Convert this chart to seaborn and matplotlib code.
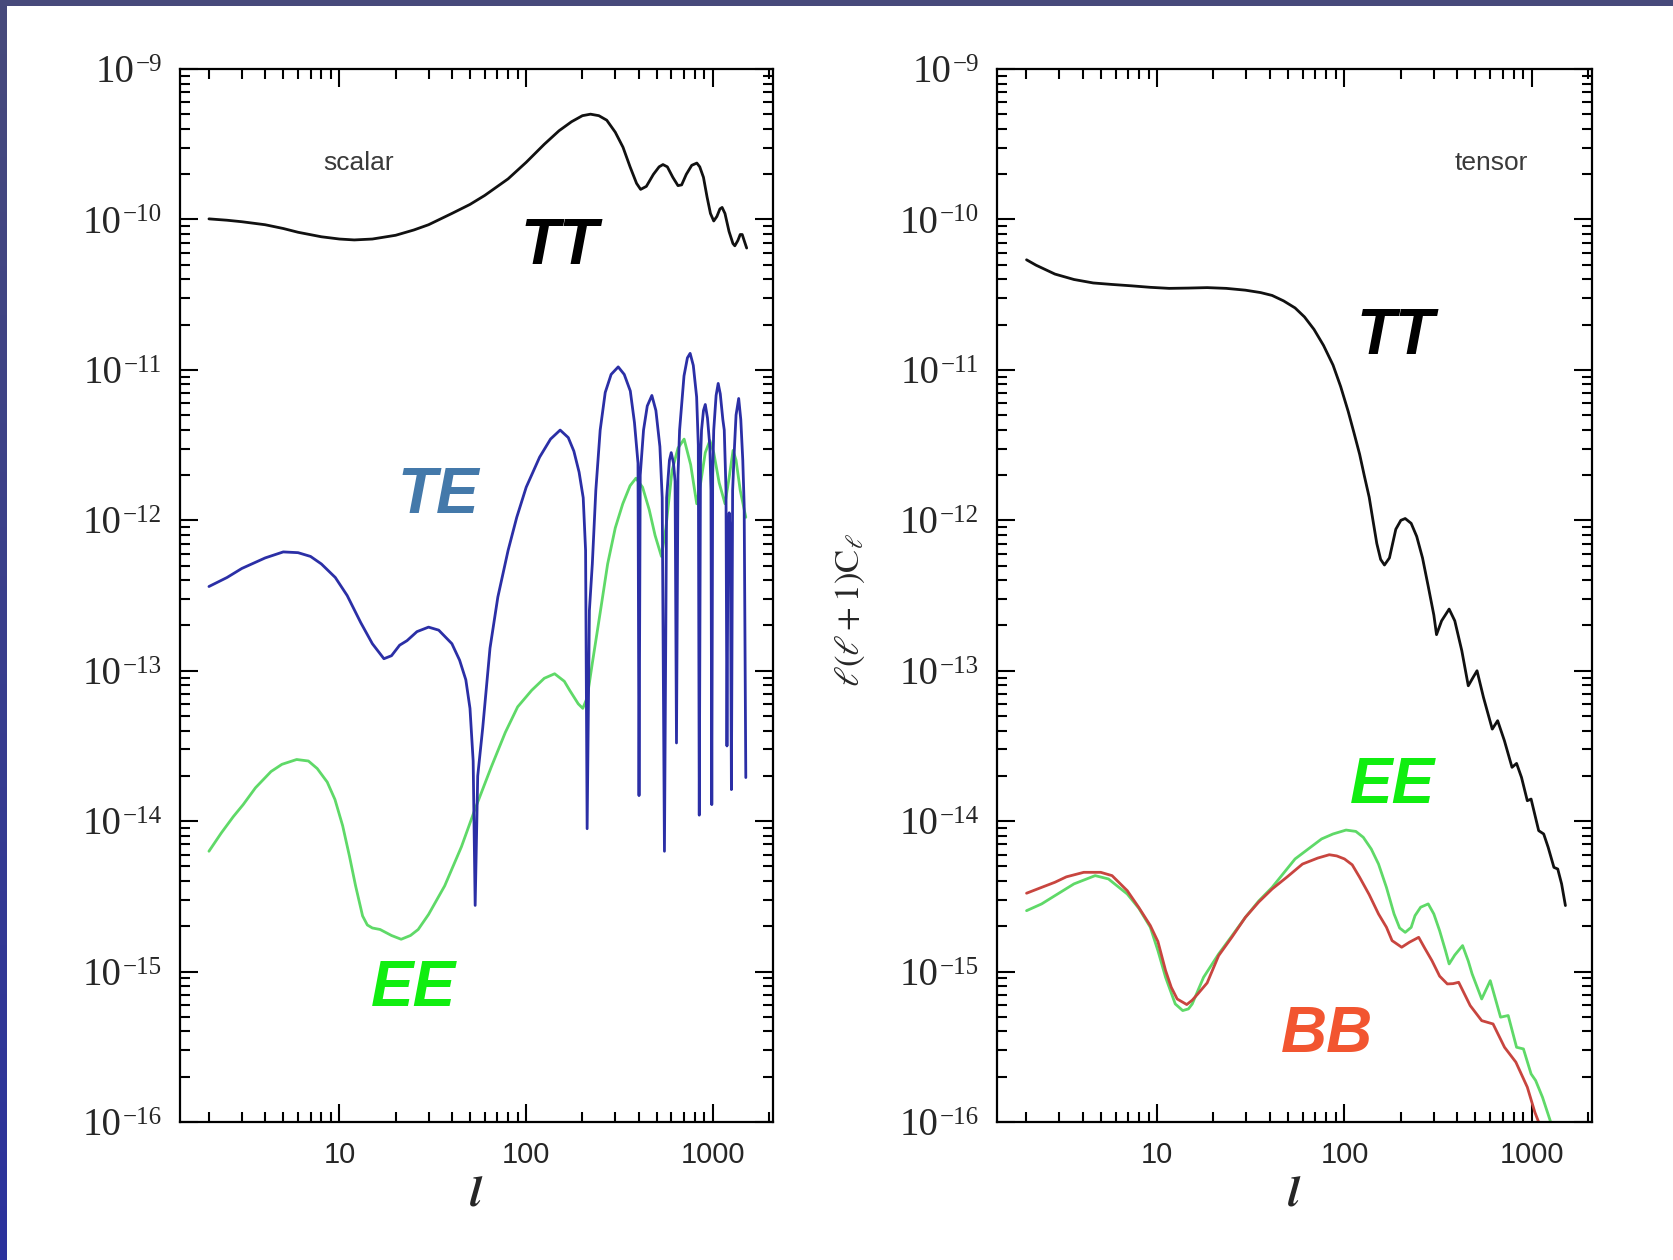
import numpy as np
import pandas as pd
import matplotlib
matplotlib.use("Agg")
import matplotlib.pyplot as plt
import seaborn as sns
from matplotlib.ticker import FixedLocator, LogLocator, NullFormatter
from matplotlib.patches import Rectangle
from matplotlib.colors import LinearSegmentedColormap
from matplotlib.transforms import offset_copy

# ---------------- dados (multipolo l, log10 de l(l+1)C_l) ----------------

# painel escalar: TT
ell_tt_s = [2, 2.5, 3, 4, 5, 6, 8, 10, 12, 15, 20, 25, 30, 40, 50, 60, 80, 100, 125, 150,
            175, 200, 221, 245, 270, 300, 330, 360, 390, 410, 440, 480, 515, 540, 570, 610,
            650, 680, 720, 770, 820, 850, 890, 930, 970, 1010, 1050, 1090, 1120, 1160, 1220,
            1280, 1310, 1360, 1400, 1435, 1470, 1516]
log_tt_s = [-9.996, -10.005, -10.015, -10.035, -10.06, -10.085, -10.115, -10.13, -10.136,
            -10.13, -10.105, -10.07, -10.035, -9.96, -9.90, -9.84, -9.73, -9.62, -9.50, -9.41,
            -9.35, -9.31, -9.30, -9.31, -9.34, -9.42, -9.52, -9.65, -9.76, -9.80, -9.78, -9.70,
            -9.65, -9.635, -9.65, -9.72, -9.775, -9.77, -9.70, -9.64, -9.625, -9.65, -9.72,
            -9.85, -9.96, -10.01, -9.98, -9.93, -9.92, -9.96, -10.08, -10.16, -10.175, -10.14,
            -10.10, -10.10, -10.14, -10.19]

# painel escalar: TE (valor absoluto)
ell_te_s = [2, 2.5, 3, 4, 5, 6, 7, 8, 9.5, 11, 13, 15, 17.3, 19, 21, 23, 26, 30, 34, 40, 44,
            47.5, 50, 52, 53.3, 55, 58.5, 64, 70.5, 80, 89, 100, 118, 135, 152, 168, 180, 192,
            202, 208, 212, 218, 226, 236, 249, 265, 285, 311, 335, 361, 380, 397, 402, 408,
            425, 445, 471, 495, 520, 535, 550, 565, 585, 598, 615, 627, 638, 650, 663, 700,
            730, 755, 785, 818, 835, 845, 858, 869, 890, 910, 935, 963, 976, 986, 997, 1010,
            1040, 1067, 1095, 1130, 1150, 1175, 1189, 1205, 1222, 1240, 1256, 1275, 1300,
            1330, 1374, 1410, 1445, 1470, 1500]
log_te_s = [-12.44, -12.38, -12.32, -12.25, -12.21, -12.215, -12.24, -12.29, -12.38, -12.50,
            -12.68, -12.82, -12.92, -12.90, -12.83, -12.80, -12.74, -12.71, -12.73, -12.82,
            -12.93, -13.06, -13.25, -13.6, -14.56, -13.7, -13.38, -12.85, -12.51, -12.20,
            -11.98, -11.78, -11.58, -11.46, -11.40, -11.45, -11.54, -11.68, -11.85, -12.2,
            -14.05, -12.6, -12.29, -11.80, -11.40, -11.15, -11.03, -10.98, -11.03, -11.14,
            -11.35, -11.62, -13.83, -11.70, -11.40, -11.24, -11.17, -11.27, -11.51, -11.85,
            -14.20, -11.85, -11.60, -11.55, -11.62, -11.74, -13.48, -11.70, -11.40, -11.04,
            -10.92, -10.89, -10.97, -11.18, -11.5, -13.96, -11.6, -11.40, -11.27, -11.23,
            -11.32, -11.51, -11.8, -13.89, -11.7, -11.40, -11.17, -11.09, -11.16, -11.33,
            -11.40, -11.8, -13.50, -12.05, -11.95, -12.10, -13.79, -11.80, -11.55, -11.30,
            -11.19, -11.33, -11.60, -11.90, -13.71]

# painel escalar: EE
ell_ee_s = [2, 2.33, 2.7, 3.05, 3.55, 4.3, 4.92, 5.9, 6.82, 7.6, 8.6, 9.46, 10.4, 11.3, 12.2,
            13.3, 14.1, 15, 16.5, 19, 21.4, 24, 26.4, 30, 36.6, 45, 53.2, 65, 77.3, 90, 107,
            125, 142, 160, 171, 190, 201, 212, 226, 250, 273, 300, 329, 360, 387, 420, 456,
            490, 530, 560, 604, 650, 701, 760, 819, 860, 910, 963, 1010, 1080, 1161, 1220,
            1282, 1330, 1400, 1500]
log_ee_s = [-14.20, -14.078, -13.97, -13.89, -13.778, -13.67, -13.622, -13.59, -13.60,
            -13.65, -13.74, -13.856, -14.03, -14.23, -14.43, -14.63, -14.69, -14.71, -14.72,
            -14.76, -14.785, -14.76, -14.72, -14.62, -14.43, -14.17, -13.92, -13.64, -13.41,
            -13.24, -13.13, -13.05, -13.02, -13.07, -13.13, -13.22, -13.25, -13.18, -12.95,
            -12.60, -12.29, -12.05, -11.89, -11.77, -11.72, -11.78, -11.93, -12.10, -12.24,
            -12.05, -11.67, -11.52, -11.46, -11.63, -11.89, -11.75, -11.55, -11.47, -11.55,
            -11.75, -11.89, -11.72, -11.535, -11.60, -11.80, -11.98]

# painel tensorial: TT
ell_tt_t = [2.01, 2.26, 2.85, 3.6, 4.56, 5.75, 7.28, 9.19, 11.6, 14.7, 18.5, 23.4, 29.6, 35.7,
            41.1, 47.3, 54.5, 61.2, 68.8, 77.3, 86.9, 95.4, 104.7, 112.4, 120.5, 127.6, 135.5,
            141.9, 148.8, 156, 163.5, 173.8, 188, 200, 211, 227, 243, 261, 280, 300, 310, 330,
            362, 388, 423, 458, 486, 510, 552, 615, 657, 714, 784, 829, 881, 946, 991, 1088,
            1157, 1222, 1312, 1375, 1442, 1511]
log_tt_t = [-10.268, -10.304, -10.363, -10.399, -10.422, -10.432, -10.441, -10.451, -10.458,
            -10.456, -10.453, -10.458, -10.470, -10.486, -10.505, -10.541, -10.588, -10.648,
            -10.731, -10.837, -10.968, -11.110, -11.276, -11.418, -11.561, -11.703, -11.846,
            -11.999, -12.154, -12.26, -12.297, -12.25, -12.059, -12.0, -11.988, -12.02,
            -12.107, -12.25, -12.439, -12.63, -12.76, -12.668, -12.59, -12.668, -12.867,
            -13.10, -13.044, -13.0, -13.177, -13.388, -13.332, -13.465, -13.642, -13.616,
            -13.709, -13.864, -13.853, -14.063, -14.085, -14.173, -14.307, -14.318, -14.417,
            -14.561]

# painel tensorial: EE
ell_ee_t = [2.01, 2.42, 2.85, 3.6, 4.67, 5.5, 6.93, 8.0, 9.2, 10.1, 11.1, 12.5, 13.7, 14.7,
            15.4, 17.7, 21.3, 24.5, 29.6, 34.9, 41.1, 54.5, 75.5, 86.9, 102, 115, 126, 139, 152,
            167.5, 184, 197, 211, 227, 238, 255, 280, 300, 322, 346, 362, 388, 427, 458, 480,
            540, 600, 681, 748, 829, 902, 991, 1048, 1140, 1253, 1350]
log_ee_t = [-14.595, -14.550, -14.495, -14.417, -14.362, -14.384, -14.484, -14.58, -14.705,
            -14.86, -15.038, -15.215, -15.259, -15.248, -15.215, -15.038, -14.883, -14.78,
            -14.639, -14.53, -14.440, -14.251, -14.118, -14.085, -14.059, -14.068, -14.107,
            -14.185, -14.285, -14.44, -14.617, -14.71, -14.739, -14.706, -14.628, -14.572,
            -14.550, -14.617, -14.728, -14.86, -14.949, -14.89, -14.827, -14.93, -15.015,
            -15.182, -15.060, -15.303, -15.292, -15.503, -15.514, -15.680, -15.724, -15.835,
            -15.99, -16.15]

# painel tensorial: BB
ell_bb_t = [2.01, 2.42, 2.85, 3.28, 4.06, 5.0, 5.75, 6.93, 7.98, 9.2, 10.1, 11.1, 11.9, 12.8,
            14.4, 15.4, 16.5, 18.5, 21.3, 25.1, 29.6, 34.9, 41.1, 49.5, 59.7, 72.1, 83, 91,
            100, 110, 120.5, 135.5, 152, 167.5, 179.5, 202, 222, 249, 267, 293, 322, 354,
            380, 407, 469, 540, 621, 715, 822, 946, 1038, 1114, 1200]
log_bb_t = [-14.479, -14.44, -14.406, -14.37, -14.340, -14.340, -14.362, -14.462, -14.573,
            -14.694, -14.80, -14.993, -15.104, -15.182, -15.219, -15.19, -15.148, -15.075,
            -14.894, -14.77, -14.639, -14.537, -14.451, -14.37, -14.285, -14.245, -14.223,
            -14.231, -14.251, -14.29, -14.373, -14.488, -14.617, -14.705, -14.794, -14.838,
            -14.805, -14.772, -14.84, -14.927, -15.03, -15.082, -15.08, -15.071, -15.226,
            -15.326, -15.348, -15.503, -15.602, -15.768, -15.935, -16.034, -16.2]

# eixos
x_ticks = [10, 100, 1000]
x_labels = ['10', '100', '1000']
y_ticks = [1e-16, 1e-15, 1e-14, 1e-13, 1e-12, 1e-11, 1e-10, 1e-9]
y_expoentes = ['\u221216', '\u221215', '\u221214', '\u221213', '\u221212', '\u221211',
               '\u221210', '\u22129']

serif = ['Liberation Serif', 'DejaVu Serif']

# ---------------- estilo ----------------
sns.set_style("ticks")
plt.rcParams['font.family'] = ['Liberation Sans', 'DejaVu Sans']
plt.rcParams['mathtext.fontset'] = 'stix'

fig = plt.figure(figsize=(16.73, 12.6), dpi=100)
fig.patch.set_facecolor('white')

# moldura azul do slide
fig.patches.append(Rectangle((0, 1 - 6 / 1260), 1, 6 / 1260, transform=fig.transFigure,
                             facecolor='#474a7b', edgecolor='none', zorder=10))
ax_borda = fig.add_axes([0, 0, 7 / 1673, 1])
cmap_borda = LinearSegmentedColormap.from_list('borda', ['#474a7b', '#2b329d'])
ax_borda.imshow(np.linspace(0, 1, 256).reshape(-1, 1), aspect='auto', cmap=cmap_borda)
ax_borda.axis('off')

ax1 = fig.add_axes([0.1076, 0.1095, 0.3545, 0.8357])
ax2 = fig.add_axes([0.5960, 0.1095, 0.3557, 0.8357])


def desenhar(ax, ell, logv, cor):
    df = pd.DataFrame({'ell': ell, 'cl': 10.0 ** np.array(logv)})
    sns.lineplot(data=df, x='ell', y='cl', ax=ax, color=cor, linewidth=2.0,
                 estimator=None, sort=False)


desenhar(ax1, ell_tt_s, log_tt_s, '#111111')
desenhar(ax1, ell_ee_s, log_ee_s, '#5fd968')
desenhar(ax1, ell_te_s, log_te_s, '#2b2fa6')

desenhar(ax2, ell_tt_t, log_tt_t, '#111111')
desenhar(ax2, ell_ee_t, log_ee_t, '#5fd968')
desenhar(ax2, ell_bb_t, log_bb_t, '#c8453f')


def formatar(ax):
    ax.set_xscale('log')
    ax.set_yscale('log')
    ax.set_xlim(1.4, 2100)
    ax.set_ylim(1e-16, 1e-9)
    ax.xaxis.set_major_locator(FixedLocator(x_ticks))
    ax.set_xticklabels(x_labels)
    ax.xaxis.set_minor_locator(LogLocator(base=10, subs=range(2, 10), numticks=30))
    ax.xaxis.set_minor_formatter(NullFormatter())
    ax.yaxis.set_major_locator(FixedLocator(y_ticks))
    ax.yaxis.set_minor_locator(LogLocator(base=10, subs=range(2, 10), numticks=30))
    ax.yaxis.set_minor_formatter(NullFormatter())
    ax.tick_params(which='both', direction='in', top=True, right=True,
                   width=1.5, color='black')
    ax.tick_params(which='major', length=13)
    ax.tick_params(which='minor', length=7)
    ax.tick_params(axis='y', labelleft=False)
    ax.tick_params(axis='x', which='major', labelsize=21, pad=14)
    for lab in ax.get_xticklabels():
        lab.set_family(['Liberation Sans Narrow', 'Liberation Sans', 'DejaVu Sans'])
    for sp in ax.spines.values():
        sp.set_linewidth(1.6)
        sp.set_color('black')
    ax.set_xlabel(r'$\mathbfit{l}$', fontsize=31)
    ax.xaxis.set_label_coords(0.5, -0.05)
    ax.set_ylabel('')


formatar(ax1)
formatar(ax2)

# rótulos do eixo y: "10" grande com expoente pequeno
fig.canvas.draw()
renderer = fig.canvas.get_renderer()
for ax in (ax1, ax2):
    for v, e in zip(y_ticks, y_expoentes):
        tr_sup = offset_copy(ax.get_yaxis_transform(), fig=fig, x=-13, y=-1.4, units='points')
        sup = ax.text(0, v, e, transform=tr_sup, ha='right', va='baseline',
                      fontsize=18, family=serif)
        w = sup.get_window_extent(renderer).width * 72 / fig.dpi
        tr_base = offset_copy(ax.get_yaxis_transform(), fig=fig, x=-13 - w - 1.0, y=-9.4,
                              units='points')
        ax.text(0, v, '10', transform=tr_base, ha='right', va='baseline',
                fontsize=28, family=serif)

ax2.set_ylabel(r'$\ell(\ell+1)\mathrm{C}_\ell$', fontsize=25)
ax2.yaxis.set_label_coords(-0.218, 0.486)

# textos
ax1.text(0.301, 0.911, 'scalar', transform=ax1.transAxes, ha='center', va='center',
         fontsize=19, color='#3a3a3a')
ax2.text(0.830, 0.911, 'tensor', transform=ax2.transAxes, ha='center', va='center',
         fontsize=19, color='#3a3a3a')

rotulo = dict(fontsize=46, fontweight='bold', style='italic', ha='center', va='center')
ax1.text(0.640, 0.831, 'TT', transform=ax1.transAxes, color='black', **rotulo)
ax1.text(0.435, 0.595, 'TE', transform=ax1.transAxes, color='#4479aa', **rotulo)
ax1.text(0.394, 0.126, 'EE', transform=ax1.transAxes, color='#10ee10', **rotulo)
ax2.text(0.670, 0.746, 'TT', transform=ax2.transAxes, color='black', **rotulo)
ax2.text(0.665, 0.319, 'EE', transform=ax2.transAxes, color='#10ee10', **rotulo)
ax2.text(0.554, 0.083, 'BB', transform=ax2.transAxes, color='#f25530', **rotulo)

fig.savefig('out.png', dpi=100, facecolor='white')
